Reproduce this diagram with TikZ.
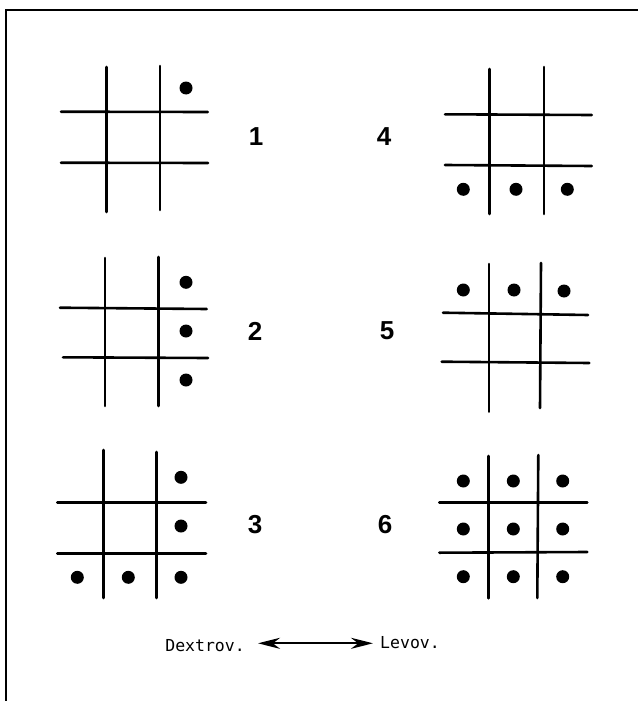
\documentclass[tikz,border=0pt]{standalone}
\usepackage{fontspec}
\setmainfont{Liberation Sans}
\newfontfamily\monofont{DejaVu Sans Mono}
\usetikzlibrary{arrows.meta}
\tikzset{
  gridline/.style={line width=2.6pt, line cap=round},
  frameline/.style={line width=2pt},
  dot/.style={circle, fill=black, inner sep=0pt, minimum size=13pt},
  numlabel/.style={font=\fontsize{26}{28}\selectfont\bfseries, inner sep=0pt},
  legend/.style={font=\monofont\fontsize{16.5}{18}\selectfont, inner sep=0pt},
  dirarrow/.style={line width=2.2pt, {Stealth[length=22pt,width=11pt]}-{Stealth[length=22pt,width=11pt]}}
}
\begin{document}
\begin{tikzpicture}[x=1pt,y=-1pt]
\useasboundingbox (0,0) rectangle (638,701);
% frame
\draw[frameline] (6,701) -- (6,10) -- (638,10);

% grid 1
\draw[gridline] (106.7,67) -- (106.7,212);
\draw[gridline] (160,66) -- (160,210);
\draw[gridline] (61,111.7) -- (207.7,112);
\draw[gridline] (61,162.7) -- (208,163);
\node[dot] (d1a) at (186,88) {};
\node[numlabel] (n1) at (256,137) {1};

% grid 4
\draw[gridline] (489.3,69) -- (489.3,214);
\draw[gridline] (544,67) -- (544,214);
\draw[gridline] (445,114.3) -- (591.7,115);
\draw[gridline] (445,165) -- (591.7,166);
\node[dot] (d4a) at (463.3,189.3) {};
\node[dot] (d4b) at (516,189.3) {};
\node[dot] (d4c) at (567.3,189.3) {};
\node[numlabel] (n4) at (384,137) {4};

% grid 2
\draw[gridline] (105,258) -- (105,406);
\draw[gridline] (158.3,257) -- (158.3,406);
\draw[gridline] (60,307.7) -- (206.7,309);
\draw[gridline] (63,357.3) -- (208,358);
\node[dot] (d2a) at (186,282.3) {};
\node[dot] (d2b) at (186,331) {};
\node[dot] (d2c) at (186,380) {};
\node[numlabel] (n2) at (255,331) {2};

% grid 5
\draw[gridline] (489,264) -- (489,411.7);
\draw[gridline] (541,263) -- (540,408);
\draw[gridline] (443,312.7) -- (588,315);
\draw[gridline] (441.7,361.7) -- (589.3,363);
\node[dot] (d5a) at (463.3,290) {};
\node[dot] (d5b) at (514,290) {};
\node[dot] (d5c) at (564,291) {};
\node[numlabel] (n5) at (387,331) {5};

% grid 3
\draw[gridline] (103.3,450) -- (103.3,598);
\draw[gridline] (156.7,452) -- (156.7,598);
\draw[gridline] (57.3,502.3) -- (206,502.3);
\draw[gridline] (57.3,553.3) -- (206,553.3);
\node[dot] (d3a) at (181,477.3) {};
\node[dot] (d3b) at (181,526) {};
\node[dot] (d3c) at (181,577.3) {};
\node[dot] (d3d) at (77.3,577.3) {};
\node[dot] (d3e) at (128.3,577.3) {};
\node[numlabel] (n3) at (255,525) {3};

% grid 6
\draw[gridline] (488.3,456) -- (488.3,598.3);
\draw[gridline] (538.3,455) -- (537.3,598);
\draw[gridline] (439.3,502.7) -- (587.3,502.7);
\draw[gridline] (439.3,552.7) -- (587.3,552);
\foreach \xx/\cc in {463.3/a,513.3/b,562.7/c}{
  \foreach \yy/\rr in {481/1,529/2,576.7/3}{
    \node[dot] (d6\cc\rr) at (\xx,\yy) {};
  }
}
\node[numlabel] (n6) at (385,525) {6};

% legend
\node[legend, anchor=east] (dex) at (245,646) {Dextrov.};
\node[legend, anchor=west] (lev) at (380,643) {Levov.};
\coordinate (arrL) at (258,643.3);
\coordinate (arrR) at (373,643.3);
\draw[dirarrow] (arrL) -- (arrR);
\end{tikzpicture}
\end{document}
